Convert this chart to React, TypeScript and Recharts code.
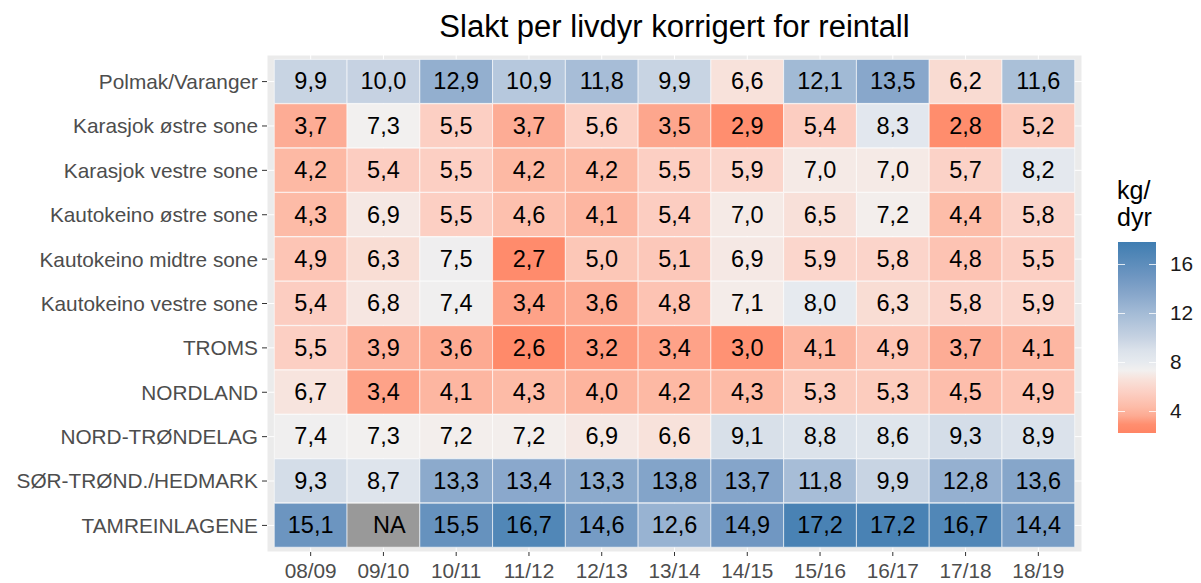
import React from 'react';
import { BarChart, Bar, XAxis, YAxis, CartesianGrid, Cell, LabelList } from 'recharts';

const seasons = ['08/09', '09/10', '10/11', '11/12', '12/13', '13/14', '14/15', '15/16', '16/17', '17/18', '18/19'];

const areas = [
    'Polmak/Varanger',
    'Karasjok østre sone',
    'Karasjok vestre sone',
    'Kautokeino østre sone',
    'Kautokeino midtre sone',
    'Kautokeino vestre sone',
    'TROMS',
    'NORDLAND',
    'NORD-TRØNDELAG',
    'SØR-TRØND./HEDMARK',
    'TAMREINLAGENE',
];

const polmak = [9.9, 10.0, 12.9, 10.9, 11.8, 9.9, 6.6, 12.1, 13.5, 6.2, 11.6];
const karasjokOstre = [3.7, 7.3, 5.5, 3.7, 5.6, 3.5, 2.9, 5.4, 8.3, 2.8, 5.2];
const karasjokVestre = [4.2, 5.4, 5.5, 4.2, 4.2, 5.5, 5.9, 7.0, 7.0, 5.7, 8.2];
const kautokeinoOstre = [4.3, 6.9, 5.5, 4.6, 4.1, 5.4, 7.0, 6.5, 7.2, 4.4, 5.8];
const kautokeinoMidtre = [4.9, 6.3, 7.5, 2.7, 5.0, 5.1, 6.9, 5.9, 5.8, 4.8, 5.5];
const kautokeinoVestre = [5.4, 6.8, 7.4, 3.4, 3.6, 4.8, 7.1, 8.0, 6.3, 5.8, 5.9];
const troms = [5.5, 3.9, 3.6, 2.6, 3.2, 3.4, 3.0, 4.1, 4.9, 3.7, 4.1];
const nordland = [6.7, 3.4, 4.1, 4.3, 4.0, 4.2, 4.3, 5.3, 5.3, 4.5, 4.9];
const nordTrondelag = [7.4, 7.3, 7.2, 7.2, 6.9, 6.6, 9.1, 8.8, 8.6, 9.3, 8.9];
const sorTrond = [9.3, 8.7, 13.3, 13.4, 13.3, 13.8, 13.7, 11.8, 9.9, 12.8, 13.6];
const tamrein = [15.1, null, 15.5, 16.7, 14.6, 12.6, 14.9, 17.2, 17.2, 16.7, 14.4];

const values: (number | null)[][] = [
    polmak, karasjokOstre, karasjokVestre, kautokeinoOstre, kautokeinoMidtre,
    kautokeinoVestre, troms, nordland, nordTrondelag, sorTrond, tamrein,
];

const legendTicks = [4, 8, 12, 16];

// colour stops
const stops: [number, string][] = [
    [2.2, '#FF8464'],
    [2.9, '#FF8E6F'],
    [3.6, '#FDAA92'],
    [4.3, '#FDBBA7'],
    [5.5, '#FCCFC3'],
    [6.6, '#F8E2DB'],
    [7.3, '#F2F0EF'],
    [8.0, '#E6EAEF'],
    [9.0, '#DAE1EA'],
    [10.0, '#C6D2E2'],
    [12.0, '#A3BBD6'],
    [13.5, '#88A7CB'],
    [15.0, '#6E96C1'],
    [17.8, '#3F7DB1'],
];

const hex = (c: string) => [1, 3, 5].map((i) => parseInt(c.slice(i, i + 2), 16));

function colorFor(v: number | null) {
    if (v === null) return '#999999';
    if (v <= stops[0][0]) return stops[0][1];
    for (let i = 1; i < stops.length; i++) {
        if (v <= stops[i][0]) {
            const [v0, c0] = stops[i - 1];
            const [v1, c1] = stops[i];
            const t = (v - v0) / (v1 - v0);
            const a = hex(c0);
            const b = hex(c1);
            const m = a.map((x, k) => Math.round(x + (b[k] - x) * t));
            return `rgb(${m[0]},${m[1]},${m[2]})`;
        }
    }
    return stops[stops.length - 1][1];
}

const fmt = (v: number | null) => (v === null ? 'NA' : v.toFixed(1).replace('.', ','));

const data = areas.map((name, i) => {
    const row: Record<string, number | string> = { name };
    seasons.forEach((_, j) => {
        row[`c${j}`] = 1;
    });
    row.idx = i;
    return row;
});

const FONT = '"Liberation Sans", Arial, sans-serif';

const LEG_TOP = 242;
const LEG_BOTTOM = 433;
const LEG_LO = 2.2;
const LEG_HI = 17.8;
const legY = (v: number) => LEG_BOTTOM - ((v - LEG_LO) / (LEG_HI - LEG_LO)) * (LEG_BOTTOM - LEG_TOP);

function gradientCss() {
    const parts = stops.map(([v, c]) => `${c} ${(((v - LEG_LO) / (LEG_HI - LEG_LO)) * 100).toFixed(2)}%`);
    return `linear-gradient(to top, ${parts.join(', ')})`;
}

export default function App() {
    return (
        <div style={{ position: 'absolute', left: 0, top: 0, width: 1201, height: 583, background: '#fff', fontFamily: FONT }}>
            <div style={{ position: 'absolute', left: 267, width: 815, top: 9, textAlign: 'center', fontSize: 31, lineHeight: '36px', color: '#000' }}>
                Slakt per livdyr korrigert for reintall
            </div>
            <BarChart
                width={1201}
                height={583}
                data={data}
                layout="vertical"
                barCategoryGap={0}
                margin={{ top: 55, right: 119, left: 7, bottom: 0 }}
            >
                <CartesianGrid fill="#EBEBEB" stroke="#FFFFFF" strokeWidth={1} />
                <XAxis
                    type="number"
                    domain={[-0.1, 11.1]}
                    allowDataOverflow
                    ticks={seasons.map((_, j) => j + 0.5)}
                    tickFormatter={(v: number) => seasons[Math.floor(v)]}
                    axisLine={false}
                    tickLine={{ stroke: '#333333' }}
                    tickSize={4}
                    tickMargin={7}
                    height={31}
                    tick={{ fill: '#4D4D4D', fontSize: 20.8, fontFamily: FONT }}
                />
                <YAxis
                    type="category"
                    dataKey="name"
                    width={260}
                    padding={{ top: 4.4, bottom: 4.4 }}
                    axisLine={false}
                    tickLine={{ stroke: '#333333' }}
                    tickSize={5}
                    tickMargin={4}
                    tick={{ fill: '#4D4D4D', fontSize: 20.8, fontFamily: FONT }}
                />
                {seasons.map((s, j) => (
                    <Bar key={s} dataKey={`c${j}`} stackId="a" isAnimationActive={false} stroke="#FFFFFF" strokeWidth={0.6}>
                        {areas.map((a, i) => (
                            <Cell key={a} fill={colorFor(values[i][j])} />
                        ))}
                        <LabelList
                            dataKey="idx"
                            content={(p: any) => {
                                const { x, y, width, height, value } = p;
                                const v = values[value as number][j];
                                return (
                                    <text
                                        x={Number(x) + Number(width) / 2 + (v === null ? 6 : 0)}
                                        y={Number(y) + Number(height) / 2}
                                        textAnchor="middle"
                                        dominantBaseline="central"
                                        fontSize={23.5}
                                        fontFamily={FONT}
                                        fill="#000000"
                                    >
                                        {fmt(v)}
                                    </text>
                                );
                            }}
                        />
                    </Bar>
                ))}
            </BarChart>
            <div style={{ position: 'absolute', left: 1117, top: 177, height: 26, fontSize: 25, lineHeight: '26px', color: '#000' }}>
                kg/
            </div>
            <div style={{ position: 'absolute', left: 1117, top: 204, height: 26, fontSize: 25, lineHeight: '26px', color: '#000' }}>
                dyr
            </div>
            <div
                style={{
                    position: 'absolute',
                    left: 1118,
                    top: LEG_TOP,
                    width: 38,
                    height: LEG_BOTTOM - LEG_TOP,
                    background: gradientCss(),
                }}
            />
            {legendTicks.map((t) => (
                <React.Fragment key={t}>
                    <div style={{ position: 'absolute', left: 1118, top: legY(t), width: 7, height: 1, background: 'rgba(255,255,255,0.8)' }} />
                    <div style={{ position: 'absolute', left: 1149, top: legY(t), width: 7, height: 1, background: 'rgba(255,255,255,0.8)' }} />
                    <div style={{ position: 'absolute', left: 1170, top: legY(t) - 12, fontSize: 20.8, lineHeight: '24px', color: '#1A1A1A' }}>
                        {t}
                    </div>
                </React.Fragment>
            ))}
        </div>
    );
}
